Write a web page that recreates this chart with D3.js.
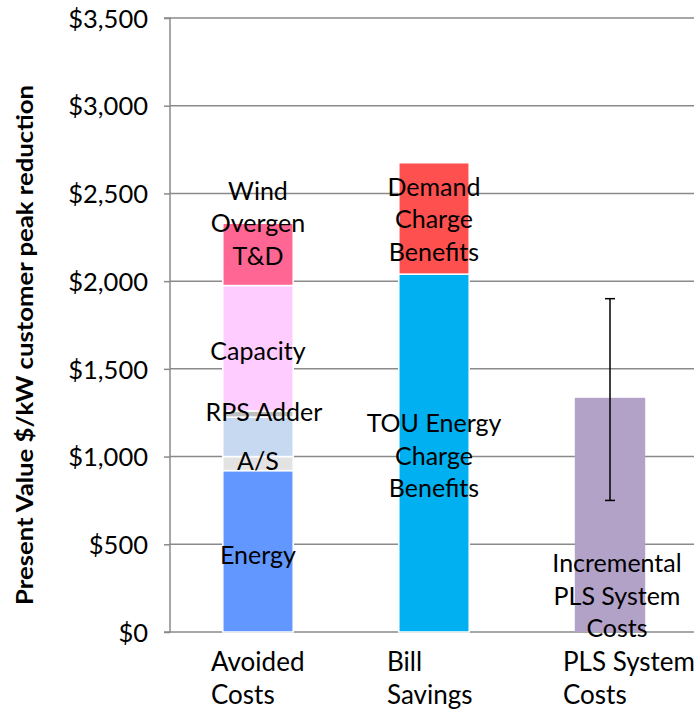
<!DOCTYPE html>
<html>
<head>
<meta charset="utf-8">
<script src="https://cdn.jsdelivr.net/npm/d3@7"></script>
<style>
  html, body { margin: 0; padding: 0; background: #fff; }
  svg { display: block; }
  text { font-family: Lato, "Open Sans", sans-serif; fill: #000; }
</style>
</head>
<body>
<svg id="chart" width="694" height="711"></svg>
<script>
// ---------------- data ----------------
const categories = ["Avoided Costs", "Bill Savings", "PLS System Costs"];
const categoryLabelLines = [["Avoided", "Costs"], ["Bill", "Savings"], ["PLS System", "Costs"]];

// Avoided Costs stack (bottom to top)
const avoidedNames  = ["Energy", "A/S", "Environment", "RPS Adder", "Capacity", "T&D", "Wind Overgen"];
const avoidedValues = [920, 80, 225, 35, 715, 355, 0];
const avoidedLabels = [["Energy"], ["A/S"], [], ["RPS Adder"], ["Capacity"], ["T&D"], ["Wind", "Overgen"]];

// Bill Savings stack (bottom to top)
const billNames  = ["TOU Energy Charge Benefits", "Demand Charge Benefits"];
const billValues = [2040, 635];
const billLabels = [["TOU Energy", "Charge", "Benefits"], ["Demand", "Charge", "Benefits"]];

// PLS System Costs
const plsNames  = ["Incremental PLS System Costs"];
const plsValues = [1335];
const plsLabels = [["Incremental", "PLS System", "Costs"]];
const plsErrorLow  = [750];
const plsErrorHigh = [1900];

const yTicks = [0, 500, 1000, 1500, 2000, 2500, 3000, 3500];
const yTitle = "Present Value $/kW customer peak reduction";

// ---------------- styles ----------------
const colors = {
  "Energy": "#6197ff",
  "A/S": "#e3e3e3",
  "Environment": "#c6d9f1",
  "RPS Adder": "#bfbfbf",
  "Capacity": "#ffccff",
  "T&D": "#ff6694",
  "Wind Overgen": "#ff6694",
  "TOU Energy Charge Benefits": "#00b0f0",
  "Demand Charge Benefits": "#ff5050",
  "Incremental PLS System Costs": "#b3a2c7"
};
// label nudges (px) relative to the segment centre
const labelNudge = {
  "Energy": {dx: 0, dy: 4},
  "A/S": {dx: 0, dy: -2},
  "RPS Adder": {dx: 6, dy: -2},
  "Capacity": {dx: 0, dy: 3},
  "T&D": {dx: 0, dy: 2},
  "Wind Overgen": {dx: 0, dy: -16},
  "TOU Energy Charge Benefits": {dx: 0, dy: 3},
  "Demand Charge Benefits": {dx: 0, dy: 1},
  "Incremental PLS System Costs": {dx: 7, dy: 81}
};

// ---------------- layout ----------------
const svg = d3.select("#chart");
const pLeft = 170, pRight = 698, pTop = 18, pBottom = 632;
const gridColor = "#8a8a8a";

const x = d3.scaleBand().domain(categories).range([pLeft, pRight]).paddingInner(0.6).paddingOuter(0.3);
const y = d3.scaleLinear().domain([0, 3500]).range([pBottom, pTop]);

// gridlines
svg.append("g").selectAll("line").data(yTicks).join("line")
  .attr("x1", pLeft).attr("x2", pRight)
  .attr("y1", d => y(d)).attr("y2", d => y(d))
  .attr("stroke", gridColor).attr("stroke-width", 1.5);

// y axis
const yAxis = d3.axisLeft(y).tickValues(yTicks).tickSize(6).tickPadding(16)
  .tickFormat(d => "$" + d3.format(",")(d));
const gy = svg.append("g").attr("transform", `translate(${pLeft},0)`).call(yAxis);
gy.select(".domain").attr("stroke", gridColor).attr("stroke-width", 1.5).attr("d", `M-6,${pTop}H0V${pBottom}H-6`);
gy.selectAll(".tick line").attr("stroke", gridColor).attr("stroke-width", 1.5);
gy.selectAll(".tick text").attr("font-family", "Lato, sans-serif").attr("font-size", 25.5).attr("fill", "#000").attr("dy", "0.36em");

// y title
svg.append("text")
  .attr("transform", `translate(33,${(85 + 605) / 2}) rotate(-90)`)
  .attr("text-anchor", "middle")
  .attr("font-size", 23).attr("font-weight", "bold")
  .attr("textLength", 520).attr("lengthAdjust", "spacingAndGlyphs")
  .text(yTitle);

// build stacks
function stackOf(names, values, labels) {
  let acc = 0;
  return names.map((n, i) => { const s = {name: n, y0: acc, y1: acc + values[i], label: labels[i]}; acc += values[i]; return s; });
}
const stacks = [
  {cat: categories[0], segs: stackOf(avoidedNames, avoidedValues, avoidedLabels)},
  {cat: categories[1], segs: stackOf(billNames, billValues, billLabels)},
  {cat: categories[2], segs: stackOf(plsNames, plsValues, plsLabels)}
];

const barsG = svg.append("g");
stacks.forEach(st => {
  barsG.selectAll(null).data(st.segs.filter(s => s.y1 > s.y0)).join("rect")
    .attr("x", x(st.cat)).attr("width", x.bandwidth())
    .attr("y", d => y(d.y1)).attr("height", d => y(d.y0) - y(d.y1))
    .attr("fill", d => colors[d.name])
    .attr("stroke", st.cat === categories[2] ? "none" : "#fff").attr("stroke-width", 1.5);
});

// error bar on PLS
const ex = x(categories[2]) + x.bandwidth() / 2;
const eg = svg.append("g").attr("stroke", "#000").attr("stroke-width", 1.5);
plsErrorLow.forEach((lo, i) => {
  const hi = plsErrorHigh[i];
  eg.append("line").attr("x1", ex).attr("x2", ex).attr("y1", y(hi)).attr("y2", y(lo));
  eg.append("line").attr("x1", ex - 5).attr("x2", ex + 5).attr("y1", y(hi)).attr("y2", y(hi));
  eg.append("line").attr("x1", ex - 5).attr("x2", ex + 5).attr("y1", y(lo)).attr("y2", y(lo));
});

// data labels
const lineH = 32.5;
const labG = svg.append("g");
stacks.forEach(st => {
  const cx = x(st.cat) + x.bandwidth() / 2;
  st.segs.forEach(s => {
    if (!s.label.length) return;
    const nud = labelNudge[s.name] || {dx: 0, dy: 0};
    const cy = (y(s.y0) + y(s.y1)) / 2 + nud.dy;
    const n = s.label.length;
    s.label.forEach((ln, i) => {
      labG.append("text")
        .attr("x", cx + nud.dx)
        .attr("y", cy + (i - (n - 1) / 2) * lineH)
        .attr("dy", "0.35em")
        .attr("text-anchor", "middle")
        .attr("font-size", 25)
        .text(ln);
    });
  });
});

// category labels
const catG = svg.append("g");
categories.forEach((c, i) => {
  const cx = x(c) + x.bandwidth() / 2;
  categoryLabelLines[i].forEach((ln, j) => {
    catG.append("text")
      .attr("x", cx - 47)
      .attr("y", 662 + j * 33)
      .attr("dy", "0.35em")
      .attr("font-size", 26)
      .text(ln);
  });
});
</script>
</body>
</html>
